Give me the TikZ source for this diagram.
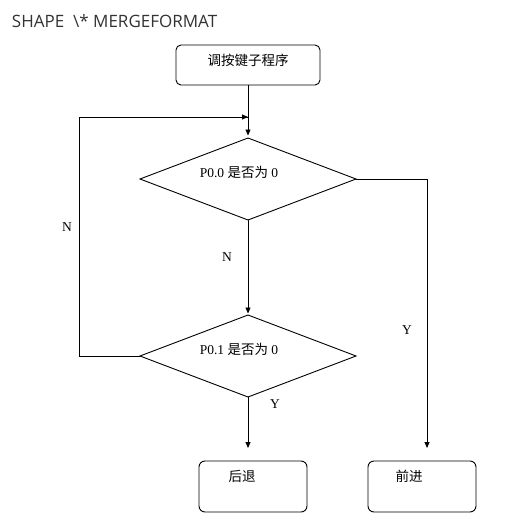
\documentclass[tikz,border=0pt]{standalone}
\usepackage{fontspec}
\setmainfont{Liberation Serif}
\newfontfamily\cjk{Noto Sans CJK SC}
\newfontfamily\titlefont{Open Sans}
\usetikzlibrary{shapes.geometric,arrows.meta}
\begin{document}
\begin{tikzpicture}[x=1pt,y=-1pt,
  every node/.style={inner sep=0pt, outer sep=0pt},
  conn/.style={line width=0.9pt, draw=black},
  arr/.style={conn, -{Triangle[length=6pt,width=5pt]}},
  box/.style={draw=black, line width=0.9pt, rounded corners=5pt, minimum width=144pt, minimum height=40pt},
  endbox/.style={draw=black, line width=0.9pt, rounded corners=6pt, minimum width=108pt, minimum height=51pt},
  dia/.style={draw=black, line width=0.9pt, diamond, shape aspect=2.63, minimum width=216pt, minimum height=82pt},
  txt/.style={font=\fontsize{13.5}{15}\selectfont},
  lab/.style={font=\fontsize{13.5}{15}\selectfont}
]
\useasboundingbox (0,0) rectangle (524,528);
\node[anchor=base west, text=black!80, font=\titlefont\fontsize{17}{20}\selectfont] (title) at (12,27) {SHAPE \ \textbackslash* MERGEFORMAT};

\node[box, label={[txt, yshift=5pt]center:{\cjk 调按键子程序}}] (start) at (248,65) {};
\node[dia, label={[txt, xshift=-9pt, yshift=7pt]center:{P0.0 {\cjk 是否为} 0}}] (d1) at (248,179) {};
\node[dia, label={[txt, xshift=-9pt, yshift=7pt]center:{P0.1 {\cjk 是否为} 0}}] (d2) at (248,356) {};
\node[endbox, label={[txt, xshift=-11pt, yshift=10pt]center:{\cjk 后退}}] (back) at (253,486.5) {};
\node[endbox, label={[txt, xshift=-13pt, yshift=10pt]center:{\cjk 前进}}] (fwd) at (422,486.5) {};

\coordinate (join) at (248,117);
\coordinate (btip) at (248,448);
\coordinate (ftip) at (427,448);
\coordinate (lcorner) at (79,356);

\draw[arr, shorten >=2.5pt] (start.south) -- (d1.north);
\draw[conn] (d2.west) -- (lcorner) |- (join);
\draw[arr] (lcorner |- join) -- (join);
\draw[arr, shorten >=1.5pt] (d1.south) -- (d2.north);
\draw[arr] (d2.south) -- (btip);
\draw[arr] (d1.east) -| (ftip);

\node[lab] (n1) at (67,227) {N};
\node[lab] (n2) at (227,257) {N};
\node[lab] (y1) at (275,404) {Y};
\node[lab] (y2) at (407,330) {Y};
\end{tikzpicture}
\end{document}
